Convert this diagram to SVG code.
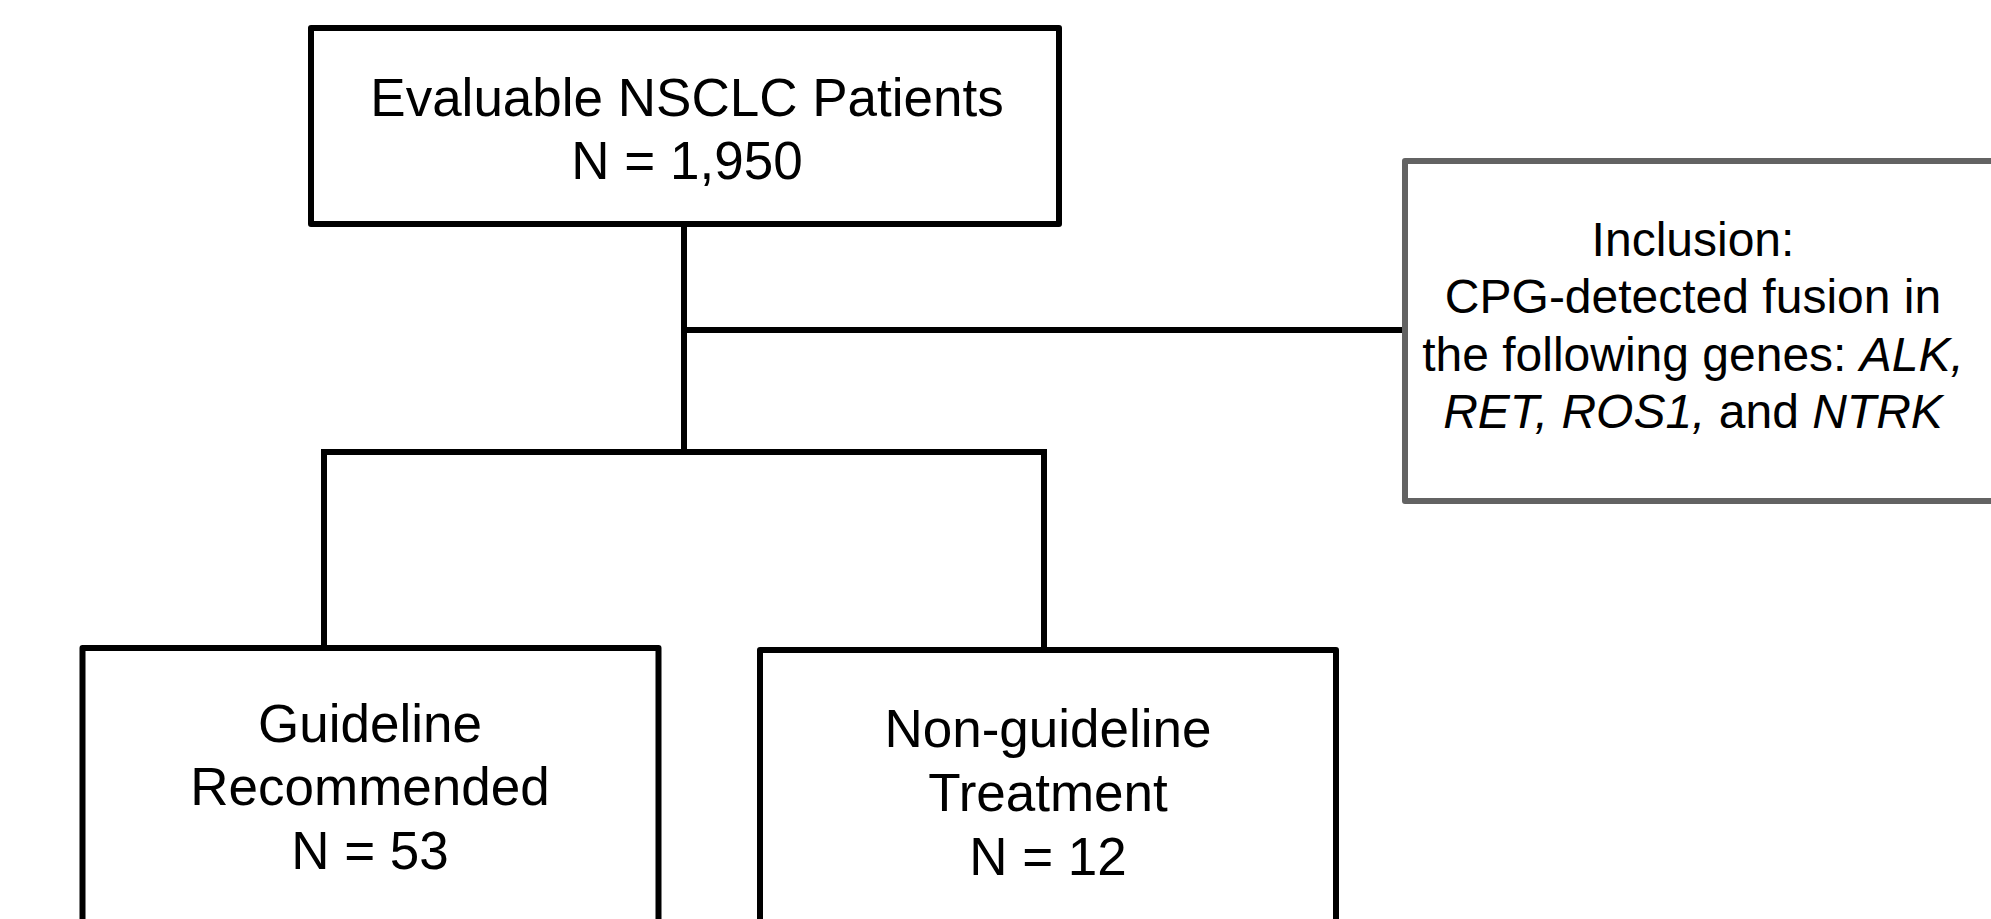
<svg xmlns="http://www.w3.org/2000/svg" width="1991" height="919" viewBox="0 0 1991 919">
<style>
.box{fill:#fff;stroke:#000;stroke-width:6;stroke-linejoin:round}
.gbox{fill:#fff;stroke:#636363;stroke-width:6;stroke-linejoin:round}
.conn{fill:none;stroke:#000;stroke-width:6;stroke-linecap:butt}
.t{font-family:"Liberation Sans",Arial,sans-serif;font-size:53px;fill:#000;text-anchor:middle}
.s{font-family:"Liberation Sans",Arial,sans-serif;font-size:48px;fill:#000;text-anchor:middle}
.i{font-style:italic}
</style>
<rect width="1991" height="919" fill="#fff"/>
<g id="connectors">
<line class="conn" x1="684" y1="224" x2="684" y2="452"/>
<line class="conn" x1="684" y1="330" x2="1405" y2="330"/>
<line class="conn" x1="321" y1="452" x2="1047" y2="452"/>
<line class="conn" x1="324" y1="452" x2="324" y2="648"/>
<line class="conn" x1="1044" y1="452" x2="1044" y2="650"/>
</g>
<g id="node-evaluable">
<rect class="box" x="311" y="28" width="748" height="196"/>
<text class="t" x="687" y="116">Evaluable NSCLC Patients</text>
<text class="t" x="687" y="179">N = 1,950</text>
</g>
<g id="node-inclusion">
<rect class="gbox" x="1405" y="161" width="620" height="340"/>
<text class="s" x="1693" y="256">Inclusion:</text>
<text class="s" x="1693" y="313">CPG-detected fusion in</text>
<text class="s" x="1693" y="371">the following genes: <tspan class="i">ALK,</tspan></text>
<text class="s" x="1693" y="428"><tspan class="i">RET, ROS1,</tspan> and <tspan class="i">NTRK</tspan></text>
</g>
<g id="node-guideline">
<rect class="box" x="82.5" y="648" width="576" height="300"/>
<text class="t" x="370" y="742">Guideline</text>
<text class="t" x="370" y="805">Recommended</text>
<text class="t" x="370" y="869">N = 53</text>
</g>
<g id="node-nonguideline">
<rect class="box" x="760" y="650" width="576" height="300"/>
<text class="t" x="1048" y="747">Non-guideline</text>
<text class="t" x="1048" y="811">Treatment</text>
<text class="t" x="1048" y="875">N = 12</text>
</g>
</svg>
